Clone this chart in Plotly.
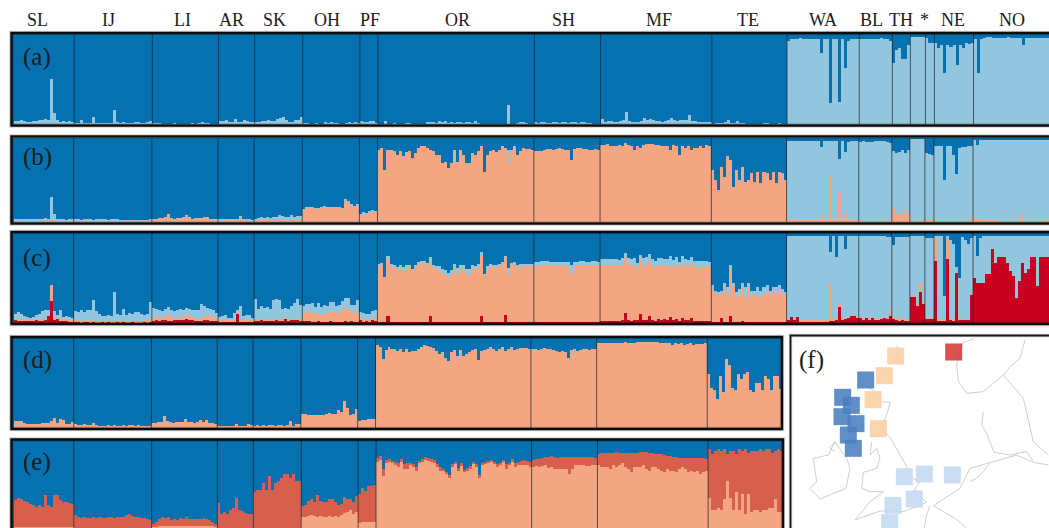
import plotly.graph_objects as go

GROUPS = ["SL","IJ","LI","AR","SK","OH","PF","OR","SH","MF","TE","WA","BL","TH","","*","NE","NO"]
LABEL_X = [37,108,182,231,274,327,370,457,563,659,748,823,871,901,None,924,953,1012]

A_LIGHT = [
[3,3,4,3,2,2,3,3,4,5,6,5,50,12,4,2,3,2,3,2],
[1,1,4,1,1,1,8,1,1,1,1,1,1,16,2,1,2,1,1,1,2,2,1,1,2,3],
[1,1,1,0,0,0,0,1,0,0,0,0,0,1,0,1,2,1,1,0,0,0],
[3,3,5,2,2,6,2,2,5,3,2,2],
[2,2,3,3,4,3,3,6,7,8,4,2,2,4,5,8],
[1,1,0,0,1,0,0,2,1,2,1,1,0,0,1,2,1,2,1],
[3,2,2,3,3,1],
[0,0,3,0,0,1,0,0,0,1,1,0,0,0,0,0,2,2,2,1,3,2,3,1,2,1,2,2,1,2,2,1,3,1,0,0,0,0,0,0,0,0,0,21,0,0,1,2,2,1,0,0],
[2,1,2,2,1,1,2,2,1,2,2,1,2,2,1,2,2,1,1,0,0,0],
[6,2,3,3,2,2,3,4,13,3,2,2,2,3,7,5,6,5,3,3,2,3,4,7,5,3,5,5,4,10,3,3,2,2,2,2,2],
[0,1,1,1,2,5,1,1,3,1,1,0,0,0,0,0,0,1,1,0,0,0,1,0,0],
[92,94,95,95,96,95,95,94,95,95,94,79,95,94,23,95,94,25,94,62,92,94,95,95],
[95,94,95,94,94,95,95,96,95,94,92],
[68,82,85,72,72,88],
[97,97,97,97,97],
[96,90,90],
[90,85,88,57,88,86,88,66,88,84,90,89,90],
[94,57,95,96,97,97,96,96,96,96,96,97,96,96,96,96,88,96,96,96,96,96,96,96,96,96],
]

B_ORANGE = [
[3,2,2,2,2,2,2,2,2,2,2,2,2,2,2,2,2,1,2,2],
[2,2,1,2,2,2,1,2,2,2,2,1,2,2,2,1,1,2,1,2,1,1,2,1,2,1],
[3,4,4,5,5,9,4,4,4,5,5,8,5,4,5,4,5,6,5,4,3,3],
[2,2,3,3,3,3,2,5,3,2,2,1],
[2,3,3,3,3,3,3,3,4,4,3,3,4,3,4,4],
[14,17,17,17,16,16,17,18,17,17,17,17,17,16,26,24,20,18,21],
[7,9,9,11,12,12],
[86,88,62,86,86,84,80,85,78,83,84,76,82,88,90,90,88,86,84,80,80,70,72,64,70,86,72,86,80,70,70,82,80,85,90,60,80,84,86,83,86,90,88,72,86,90,80,85,88,87,87,86],
[84,85,85,86,87,87,86,87,88,87,86,86,74,87,88,88,87,87,86,86,87,86],
[92,92,93,91,90,91,92,91,94,92,91,86,91,88,92,93,93,93,92,92,91,90,91,86,92,90,80,90,88,90,86,88,88,90,88,92,90],
[62,50,38,66,54,78,74,42,62,50,66,48,50,58,48,60,46,60,58,50,60,46,60,58,50],
[3,2,2,2,2,2,2,2,2,2,2,7,2,2,55,2,3,35,2,9,3,2,2,2],
[1,1,1,1,1,1,1,1,1,1,2],
[18,10,10,8,14,8],
[1,1,1,1,1],
[2,3,3],
[3,1,1,1,1,1,1,1,1,1,1,1,1],
[8,3,2,2,2,2,2,2,1,1,1,1,1,1,1,1,8,1,1,1,1,1,1,1,4,4],
]
B_LIGHT = [
[1,1,1,1,1,1,1,1,2,2,3,2,28,7,2,1,1,1,1,1],
[1,1,1,1,1,1,1,1,1,1,1,1,1,2,1,1,1,0,1,0,1,1,0,1,0,2],
[1,0,1,0,1,0,1,0,1,0,1,0,1,0,0,1,0,0,1,0,1,0],
[1,1,1,1,1,1,1,2,1,1,1,1],
[2,2,3,2,3,2,3,3,4,3,3,3,4,3,3,3],
[1,1,1,1,1,1,1,1,1,1,1,1,1,1,1,1,1,1,1],
[3,3,2,2,2,1],
[0,0,0,0,0,0,0,0,0,0,0,0,0,0,0,0,0,0,0,0,0,0,0,0,0,0,0,0,0,0,0,0,0,0,0,0,0,0,0,0,0,0,0,14,0,0,0,0,0,0,0,0],
[0,0,0,0,0,0,0,0,0,0,0,0,0,0,0,0,0,0,0,0,0,0],
[0,0,0,0,0,0,0,0,0,0,0,0,0,0,0,0,0,0,0,0,0,0,0,0,0,0,0,0,0,0,0,0,0,0,0,0,0],
[0,0,0,0,0,0,0,0,0,0,0,0,0,0,0,0,0,0,0,0,0,0,0,0,0],
[93,94,94,94,94,94,94,94,94,94,94,82,94,94,41,94,93,40,94,74,92,94,94,94],
[94,95,94,94,94,95,95,95,95,94,92],
[67,72,73,78,68,78],
[98,98,98,98,98],
[80,78,77],
[87,89,90,49,89,90,79,56,87,88,88,89,90],
[90,89,96,96,96,96,96,96,97,97,97,97,97,97,97,97,90,97,97,97,97,97,97,97,94,94],
]

C_RED = [
[4,3,3,3,3,3,3,4,3,3,4,8,25,4,5,3,3,3,2,2],
[2,2,1,2,2,1,2,1,1,2,1,2,1,1,2,1,2,1,1,2,1,1,1,2,1,2],
[2,3,2,3,3,2,2,3,3,3,3,5,3,3,2,2,2,3,3,2,2,2],
[2,2,2,2,2,2,10,2,2,2,2,2],
[3,3,4,3,3,3,3,4,3,3,5,3,4,4,4,3],
[2,2,2,1,1,2,1,1,1,2,1,1,1,1,2,1,2,1,1],
[3,2,3,2,3,2],
[1,1,1,8,1,1,1,1,1,1,1,1,1,1,1,1,1,8,1,1,1,1,1,1,1,1,1,1,1,1,1,1,1,1,8,1,1,1,1,1,1,1,9,1,1,1,1,1,1,1,1,1],
[1,1,1,1,1,1,1,1,1,1,1,1,1,1,1,1,1,1,1,1,1,1],
[2,2,2,2,2,2,2,3,11,3,2,3,3,10,3,3,8,3,2,5,3,5,3,7,3,5,2,6,3,3,6,2,2,2,2,2,2],
[1,1,1,6,1,1,8,1,1,1,2,1,1,1,1,1,1,1,1,1,1,1,1,1,1],
[4,7,4,7,2,2,2,2,2,2,2,2,2,2,2,2,3,18,4,5,6,8,8,6],
[6,4,6,4,6,4,4,5,6,5,8],
[5,4,3,3,3,3],
[29,29,19,35,22],
[5,5,5],
[69,3,3,3,71,4,3,56,4,4,4,4,32],
[50,45,44,44,55,55,82,67,73,73,73,67,58,52,28,47,67,56,60,73,73,41,73,73,73,73],
]
C_ORANGE = [
[1,1,1,1,1,1,1,1,1,1,1,1,17,2,1,1,1,1,1,1],
[1,1,1,1,1,1,1,1,1,1,1,1,1,1,1,1,1,1,1,1,1,1,1,1,1,1],
[4,4,5,3,4,8,5,3,3,3,4,5,5,4,4,3,4,5,5,6,5,4],
[1,1,1,1,1,1,2,1,1,1,1,1],
[1,1,1,1,1,1,1,1,1,1,1,1,1,1,1,1],
[9,10,10,10,9,9,9,8,10,10,11,10,11,12,16,14,10,10,11],
[3,2,2,2,3,4],
[63,64,49,64,63,61,58,62,57,61,61,56,60,65,66,66,64,63,61,59,58,53,53,49,53,62,54,62,58,53,52,60,58,62,66,50,58,62,62,61,62,65,64,54,63,65,60,62,63,63,63,62],
[62,62,62,63,63,63,62,63,63,63,62,62,54,62,63,64,64,63,63,63,63,62],
[62,62,61,62,63,62,61,61,62,63,62,61,58,62,62,62,61,60,60,60,60,60,59,56,60,60,59,61,60,60,61,61,60,60,60,61,60],
[36,32,30,28,40,30,52,40,28,30,38,28,38,30,30,30,28,30,36,30,34,30,36,30,30],
[1,0,1,0,1,1,1,1,1,1,1,1,1,1,43,3,4,3,2,1,1,1,1,1],
[1,1,1,1,1,1,1,1,1,1,6],
[2,2,2,3,2,2],
[1,1,1,10,1],
[1,1,1],
[26,1,1,1,24,1,1,1,1,1,1,1,1],
[0,0,0,0,0,0,0,0,0,0,0,0,0,0,0,0,0,0,0,0,0,0,0,0,0,0],
]
C_LIGHT = [
[5,8,6,4,3,2,3,4,6,9,9,5,0,7,3,10,3,4,4,3],
[10,9,12,9,11,12,23,11,8,5,6,6,6,32,7,7,13,7,9,7,10,10,8,6,8,20],
[11,9,7,7,9,8,8,7,9,10,7,7,8,8,9,9,15,11,9,8,8,5],
[4,5,6,3,3,8,2,16,5,6,6,3],
[23,12,14,13,14,12,22,22,22,12,11,12,14,17,22,16],
[8,9,9,11,8,11,8,11,8,11,11,8,8,12,10,13,8,9,14],
[6,7,5,6,7,8],
[2,2,1,2,2,3,3,2,4,3,3,3,3,2,2,2,2,2,3,3,4,6,5,6,5,3,6,2,5,6,7,3,4,3,5,4,4,3,2,3,3,2,2,6,3,2,4,3,2,2,2,3],
[5,5,6,5,5,4,5,4,4,4,5,5,10,5,4,4,4,4,4,5,5,5],
[7,7,8,7,6,7,7,8,5,6,7,8,6,4,7,8,8,8,7,7,9,6,9,11,7,8,7,7,8,7,6,6,7,7,7,6,6],
[5,3,3,2,3,9,4,4,5,7,4,11,5,5,5,9,7,9,5,5,5,9,5,7,3],
[92,90,92,90,94,94,94,94,94,94,94,94,94,94,34,92,66,76,91,76,90,88,88,90],
[90,92,90,92,90,92,92,91,90,90,82],
[80,90,91,90,91,91],
[67,67,77,52,74],
[88,88,88],
[2,93,93,26,2,87,84,5,45,91,87,83,61],
[47,30,51,53,42,42,15,30,24,24,24,30,39,45,69,50,30,41,37,24,24,56,24,24,24,24],
]

D_ORANGE = [
[8,8,8,6,5,5,5,5,5,6,6,6,8,11,6,10,9,5,5,7],
[4,3,3,5,3,3,6,3,2,2,2,3,2,3,2,2,3,2,3,3,2,3,2,2,2,2],
[6,6,7,7,13,8,7,6,7,7,7,10,7,7,6,7,9,7,9,6,6,4],
[2,2,2,2,2,2,5,2,2,2,4,3],
[2,3,2,3,2,3,3,2,3,3,2,3,8,2,4,5],
[16,16,15,15,15,15,14,14,16,17,16,16,20,18,30,22,15,16,21],
[8,9,9,10,10,10],
[92,90,77,87,90,88,88,86,88,85,88,84,86,86,88,90,92,91,90,89,86,82,84,78,74,85,87,80,87,80,82,84,87,88,76,86,87,88,90,88,86,88,90,86,88,90,87,88,89,89,89,88],
[88,88,87,88,89,88,88,87,86,85,86,85,78,87,88,86,87,88,88,87,88,88],
[95,95,95,94,95,95,94,95,94,96,95,95,94,96,96,96,96,96,96,96,96,95,95,94,94,92,94,93,94,92,93,94,92,93,93,93,94],
[60,45,42,32,58,40,77,70,45,42,60,55,60,62,42,40,50,50,42,58,55,42,58,58,43],
]

E_ORANGE = [
[3,3,3,3,3,3,3,3,3,3,3,3,3,3,3,3,3,3,3,3],
[2,2,2,2,2,2,2,2,2,2,2,2,2,2,2,2,2,2,2,2,2,2,2,2,2,2],
[3,3,4,4,4,5,5,5,4,4,4,5,5,4,4,5,5,5,5,5,4,3],
[2,2,2,2,2,2,2,2,2,2,2,2],
[2,2,2,2,2,2,2,2,2,2,2,2,2,2,2,2],
[15,15,16,17,16,15,16,15,15,16,15,16,15,17,19,20,22,18,20],
[8,9,9,9,9,9],
[76,78,60,74,76,74,72,70,76,68,68,72,70,66,74,76,78,77,76,74,70,66,66,62,58,70,73,66,72,64,66,68,74,70,58,72,74,74,76,73,70,72,76,68,72,76,70,72,72,72,72,70],
[70,71,70,71,72,69,70,68,68,68,68,68,62,68,72,72,72,72,71,71,72,72],
[72,70,70,70,68,72,70,72,74,70,68,64,70,70,70,72,68,66,70,70,68,66,64,68,66,66,64,68,70,68,64,66,64,66,62,64,66],
[36,22,22,24,22,34,55,36,22,42,22,40,18,40,20,22,22,20,22,22,24,24,34,20,20],
]
E_MID = [
[30,33,31,29,28,26,25,23,25,23,36,25,23,36,36,30,28,28,27,26],
[15,12,11,12,11,11,12,11,12,11,11,12,12,11,12,12,13,15,16,14,13,12,11,11,10,9],
[4,6,8,11,9,10,6,7,7,9,8,10,7,8,8,7,7,8,7,6,5,4],
[28,16,18,16,20,22,34,20,19,17,16,16],
[40,42,43,50,43,58,43,50,53,56,60,60,56,60,53,52],
[12,13,16,18,15,24,16,16,16,18,19,15,13,12,18,14,12,13,18],
[32,38,34,40,40,41],
[4,4,8,4,3,3,4,5,3,5,6,3,3,4,3,3,3,3,3,4,3,4,2,3,3,3,3,3,2,3,3,3,2,3,3,3,2,3,2,3,3,3,2,5,3,3,4,4,5,6,5,6],
[8,8,9,9,9,12,12,13,12,13,13,13,19,13,9,9,9,9,10,10,9,8],
[13,16,16,16,18,14,17,14,12,16,18,22,16,16,17,15,19,20,16,15,17,18,19,14,16,15,17,12,10,12,16,14,16,14,18,16,13],
[54,62,66,66,66,56,29,52,66,42,68,48,72,46,68,66,66,70,66,68,66,62,54,70,68],
]

SQ_ORANGE_X = [377,343,309,325]
SQ_ORANGE_Y = [393,452,524,611]
SQ_DARK_X = [287,218,244,216,258,235,250]
SQ_DARK_Y = [465,517,541,575,596,630,670]
SQ_LIGHT_X = [403,463,547,433,369,359]
SQ_LIGHT_Y = [755,747,750,822,841,893]
SQ_RED_X = [551]
SQ_RED_Y = [381]

COASTS = [
 ([380,386,382,385],[362,378,395,412]),
 ([345,332,322],[432,450,472]),
 ([262,270,300,318,332,360,352,335,350,365,385,410,420,448,432,470,440,400,330,295,255],
  [495,480,490,505,530,532,565,600,625,645,680,725,755,770,800,832,845,860,858,870,885]),
 ([255,300,340,300,275,280,320,330,320,300,305],[885,830,800,800,790,742,730,700,670,690,650]),
 ([195,175,130,140,120,150,228,240,230,195,178,195],[650,690,700,770,790,822,790,730,700,650,668,680]),
 ([612,578,560,565,590,640,700,725,760,790,835],[340,355,420,470,505,500,450,480,520,650,690]),
 ([765,750,720,700],[345,400,425,450]),
 ([640,635,650,672,720,770,790],[560,600,625,682,690,680,710]),
 ([835,790,740,660,600,570,520,490,555,590],[720,712,690,712,730,790,822,842,880,909]),
 ([480,470,462],[842,870,909]),
 ([600,620,640,660],[770,760,740,712]),
]

DARK, LIGHT, ORANGE, RED, MID = "#0571b0", "#92c5de", "#f4a582", "#ca0020", "#d6604d"
W, H = 1049, 528
SERIF = "Liberation Serif"
INK = "#1c1c1c"


def flat(groups):
    return [v for g in groups for v in g]


PANELS = [
 ("(a)", [(A_LIGHT, LIGHT)], 14, 3.008, 34, 124, 18, 0, 33, 125.5, 1075, 57),
 ("(b)", [(B_ORANGE, ORANGE), (B_LIGHT, LIGHT)], 13.5, 3.008, 138, 222, 18, 0, 136.5, 223.5, 1075, 157),
 ("(c)", [(C_RED, RED), (C_ORANGE, ORANGE), (C_LIGHT, LIGHT)], 13.5, 3.008, 233, 323, 18, 0, 232, 324, 1075, 258),
 ("(d)", [(D_ORANGE, ORANGE)], 14, 2.988, 338, 428, 11, 0, 337, 429, 782, 360),
 ("(e)", [(E_ORANGE, ORANGE), (E_MID, MID)], 14, 2.992, 440, 528, 11, 2.3, 439.5, 560, 783, 462),
]

fig = go.Figure()
layout = dict(
    width=W, height=H, autosize=False, margin=dict(l=0, r=0, t=0, b=0),
    paper_bgcolor="white", plot_bgcolor=DARK, showlegend=False,
    barmode="stack", bargap=0,
)
shapes, annots = [], []
DOM_L = 12.0

for k, (tag, stack, left, w, top, bottom, ng, ymin, ft, fb, fr, ty) in enumerate(PANELS):
    s = "" if k == 0 else str(k + 1)
    n = sum(len(g) for g in A_LIGHT[:ng])
    for data, _ in stack:
        for i, g in enumerate(data[:ng]):
            assert len(g) == len(A_LIGHT[i]), (tag, i, len(g), len(A_LIGHT[i]))
    xs = list(range(n))
    rest = [100.0] * n
    for data, col in stack:
        vals = flat(data[:ng])
        rest = [r - v for r, v in zip(rest, vals)]
        fig.add_bar(x=xs, y=vals, marker=dict(color=col, line=dict(width=0)), xaxis="x" + s, yaxis="y" + s, hoverinfo="skip")
    fig.add_bar(x=xs, y=[max(r, 0) for r in rest], marker=dict(color=DARK, line=dict(width=0)), xaxis="x" + s, yaxis="y" + s, hoverinfo="skip")
    right = min(W, left + n * w)
    layout["xaxis" + s] = dict(domain=[DOM_L / W, right / W],
                               range=[-0.5 - (left - DOM_L) / w, -0.5 + (right - left) / w],
                               visible=False, fixedrange=True, anchor="y" + s)
    layout["yaxis" + s] = dict(domain=[1 - bottom / H, 1 - top / H], range=[ymin, 100],
                               visible=False, fixedrange=True, anchor="x" + s)
    cum = 0
    for g in A_LIGHT[:ng - 1]:
        cum += len(g)
        shapes.append(dict(type="line", xref="x" + s, yref="y" + s, x0=cum - 0.5, x1=cum - 0.5, y0=ymin, y1=100,
                           line=dict(color="rgba(35,35,35,0.7)", width=1)))
    for col, lw in (("rgba(0,0,0,0.18)", 4.5), ("#0c0c0c", 2.4)):
        shapes.append(dict(type="rect", xref="paper", yref="paper", x0=11.5 / W, x1=fr / W,
                           y0=1 - fb / H, y1=1 - ft / H, line=dict(color=col, width=lw), fillcolor="rgba(0,0,0,0)"))
    annots.append(dict(text=tag, xref="paper", yref="paper", x=20.5 / W, y=1 - ty / H, xanchor="left", yanchor="middle",
                       showarrow=False, font=dict(family=SERIF, size=25, color=INK)))

for name, px in zip(GROUPS, LABEL_X):
    if name:
        annots.append(dict(text=name, xref="paper", yref="paper", x=px / W, y=1 - 19.5 / H, xanchor="center", yanchor="middle",
                           showarrow=False, font=dict(family=SERIF, size=18, color=INK)))

# map panel (f)
layout["xaxis6"] = dict(domain=[791 / W, 1], range=[63, 837], visible=False, fixedrange=True, anchor="y6")
layout["yaxis6"] = dict(domain=[0, 1 - 337 / H], range=[909, 336], visible=False, fixedrange=True, anchor="x6")
for cx, cy in COASTS:
    fig.add_scatter(x=cx, y=cy, mode="lines", line=dict(color="#cfcfcf", width=1), xaxis="x6", yaxis="y6", hoverinfo="skip")
for sx, sy, col in ((SQ_ORANGE_X, SQ_ORANGE_Y, "#f9cda4"), (SQ_DARK_X, SQ_DARK_Y, "#4a7fc0"),
                    (SQ_LIGHT_X, SQ_LIGHT_Y, "#c3d8f0"), (SQ_RED_X, SQ_RED_Y, "#d5393a")):
    fig.add_scatter(x=sx, y=sy, mode="markers", marker=dict(symbol="square", size=17, color=col, opacity=0.88, line=dict(width=0)),
                    xaxis="x6", yaxis="y6", hoverinfo="skip")
# white backdrop for the map, under its traces
shapes.append(dict(type="rect", layer="below", xref="paper", yref="paper", x0=790.5 / W, x1=1.0, y0=0, y1=1 - 335.5 / H,
                   fillcolor="white", line=dict(width=0)))
for col, lw in (("rgba(0,0,0,0.18)", 3.5), ("#1a1a1a", 1.8)):
    shapes.append(dict(type="rect", xref="paper", yref="paper", x0=790.5 / W, x1=1075 / W, y0=-0.1, y1=1 - 335.5 / H,
                       line=dict(color=col, width=lw), fillcolor="rgba(0,0,0,0)"))
annots.append(dict(text="(f)", xref="paper", yref="paper", x=797 / W, y=1 - 360 / H, xanchor="left", yanchor="middle",
                   showarrow=False, font=dict(family=SERIF, size=25, color=INK)))

layout["shapes"] = shapes
layout["annotations"] = annots
fig.update_layout(**layout)
fig.write_html("out.html", config=dict(displayModeBar=False), post_script="document.body.style.margin='0';document.documentElement.style.overflow='hidden';")
